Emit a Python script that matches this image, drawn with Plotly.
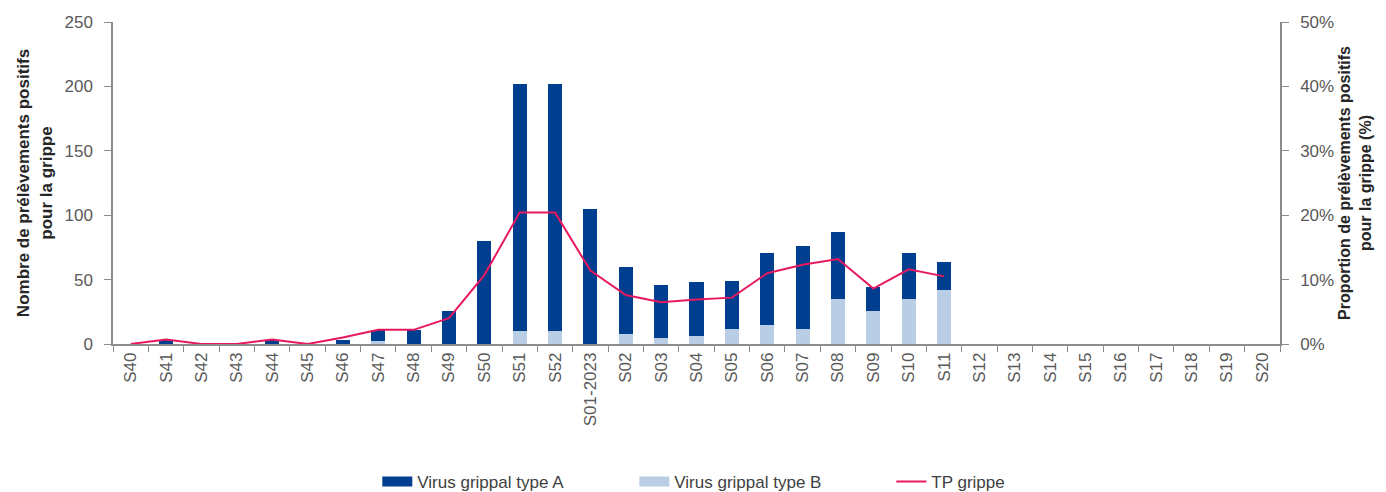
import plotly.graph_objects as go

weeks = ["S40", "S41", "S42", "S43", "S44", "S45", "S46", "S47", "S48", "S49", "S50", "S51", "S52",
         "S01-2023", "S02", "S03", "S04", "S05", "S06", "S07", "S08", "S09", "S10", "S11",
         "S12", "S13", "S14", "S15", "S16", "S17", "S18", "S19", "S20"]
virus_a = [0, 3, 0, 0, 3, 0, 3, 9, 11, 26, 80, 192, 192,
           105, 52, 41, 42, 37, 56, 64, 52, 18, 36, 22,
           None, None, None, None, None, None, None, None, None]
virus_b = [0, 0, 0, 0, 0, 0, 0, 2, 0, 0, 0, 10, 10,
           0, 8, 5, 6, 12, 15, 12, 35, 26, 35, 42,
           None, None, None, None, None, None, None, None, None]
tp_grippe = [0, 0.7, 0, 0, 0.7, 0, 1.0, 2.2, 2.2, 4.0, 10.7, 20.4, 20.4,
             11.4, 7.6, 6.5, 6.9, 7.2, 11.0, 12.3, 13.2, 8.6, 11.6, 10.5,
             None, None, None, None, None, None, None, None, None]
left_ticks = [0, 50, 100, 150, 200, 250]
right_ticks = [0, 10, 20, 30, 40, 50]

FONT = "Liberation Sans"
GRAY = "#595959"
AXIS = "#8c8c8c"
COL_A = "#003F8F"
COL_B = "#B9CDE5"
COL_TP = "#E8185F"

fig = go.Figure()
fig.add_trace(go.Bar(x=weeks, y=virus_b, name="Virus grippal type B", marker_color=COL_B,
                     marker_line_width=0, showlegend=False))
fig.add_trace(go.Bar(x=weeks, y=virus_a, name="Virus grippal type A", marker_color=COL_A,
                     marker_line_width=0, showlegend=False))
fig.add_trace(go.Scatter(x=weeks, y=tp_grippe, name="TP grippe", mode="lines",
                         line=dict(color=COL_TP, width=2), yaxis="y2", showlegend=False))
# legend entries (Excel-style wide swatches)
fig.add_trace(go.Scatter(x=[weeks[0]], y=[None], name="Virus grippal type A", mode="lines",
                         line=dict(color=COL_A, width=10), legendrank=1, hoverinfo="skip"))
fig.add_trace(go.Scatter(x=[weeks[0]], y=[None], name="Virus grippal type B", mode="lines",
                         line=dict(color=COL_B, width=10), legendrank=2, hoverinfo="skip"))
fig.add_trace(go.Scatter(x=[weeks[0]], y=[None], name="TP grippe", mode="lines",
                         line=dict(color=COL_TP, width=2), legendrank=3, hoverinfo="skip"))

fig.update_layout(
    width=1378, height=484,
    margin=dict(l=105, r=106, t=14, b=148),
    paper_bgcolor="white", plot_bgcolor="white",
    barmode="stack", bargap=0.6,
    font=dict(family=FONT, size=17, color=GRAY),
    showlegend=True,
    legend=dict(orientation="h", x=0.268, xref="container", xanchor="left",
                y=0.021, yref="container", yanchor="middle",
                font=dict(size=17, color="#404040"), entrywidth=212, traceorder="normal"),
    xaxis=dict(type="category", tickangle=-90, showline=True, linecolor=AXIS, linewidth=1.5,
               ticks="outside", tickson="boundaries", ticklen=6, tickcolor=AXIS,
               showgrid=False, tickfont=dict(size=17, color=GRAY), automargin=False),
    yaxis=dict(range=[0, 250], tickvals=left_ticks, showline=True, linecolor=AXIS, linewidth=1.5,
               ticks="outside", ticklen=7, tickcolor=AXIS, showgrid=False, zeroline=False,
               tickfont=dict(size=17, color=GRAY), ticklabelstandoff=8, automargin=False,
               title=dict(text="Nombre de prélèvements positifs<br>pour la grippe",
                          font=dict(size=17, color="#262626", family=FONT), standoff=8)),
    yaxis2=dict(range=[0, 50], tickvals=right_ticks, ticktext=[f"{v}%" for v in right_ticks],
                overlaying="y", side="right", showline=True, linecolor=AXIS, linewidth=1.5,
                ticks="outside", ticklen=7, tickcolor=AXIS, showgrid=False, zeroline=False,
                tickfont=dict(size=17, color=GRAY), ticklabelstandoff=8, automargin=False,
                title=dict(text="Proportion de prélèvements positifs<br>pour la grippe (%)",
                           font=dict(size=16, color="#262626", family=FONT), standoff=6)),
)
fig.update_yaxes(title_font_weight="bold")

fig.write_html("out.html")
